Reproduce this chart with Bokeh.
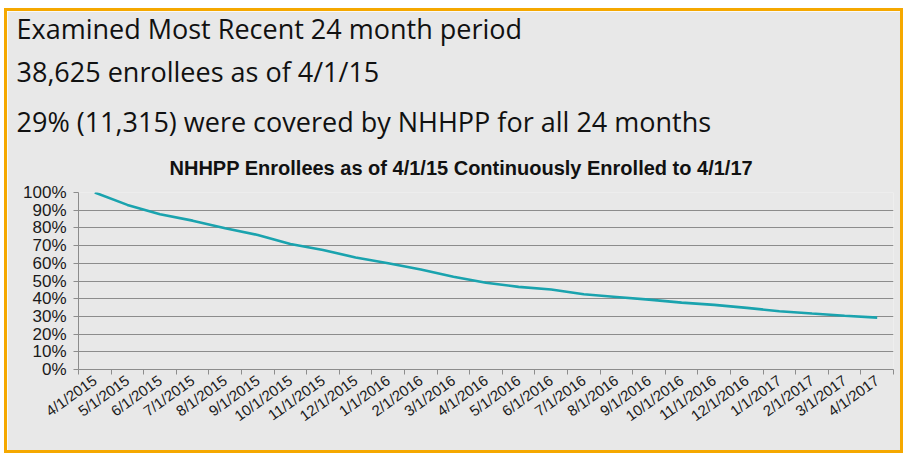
from bokeh.plotting import figure
from bokeh.models import Title, FixedTicker, PrintfTickFormatter, Range1d, ColumnDataSource
from bokeh.embed import file_html
from bokeh.resources import INLINE

header_lines = [
    "Examined Most Recent 24 month period",
    "38,625 enrollees as of 4/1/15",
    "29% (11,315) were covered by NHHPP for all 24 months",
]
chart_title = "NHHPP Enrollees as of 4/1/15 Continuously Enrolled to 4/1/17"

months = [
    "4/1/2015", "5/1/2015", "6/1/2015", "7/1/2015", "8/1/2015", "9/1/2015",
    "10/1/2015", "11/1/2015", "12/1/2015", "1/1/2016", "2/1/2016", "3/1/2016",
    "4/1/2016", "5/1/2016", "6/1/2016", "7/1/2016", "8/1/2016", "9/1/2016",
    "10/1/2016", "11/1/2016", "12/1/2016", "1/1/2017", "2/1/2017", "3/1/2017",
    "4/1/2017",
]
pct_enrolled = [
    100, 93, 87.7, 84.1, 79.8, 76, 70.9, 67.5, 63.3, 60,
    56.5, 52.4, 49, 46.7, 45.2, 42.5, 41, 39.5, 37.8, 36.5,
    34.8, 32.9, 31.6, 30.4, 29.3,
]
y_ticks = [0, 10, 20, 30, 40, 50, 60, 70, 80, 90, 100]

BG = "#E8E8E8"
ORANGE = "#F5A800"
GRID = "#8C8C8C"
LINE = "#1AA3AE"

idx = list(range(len(months)))
src = ColumnDataSource(dict(x=idx, y=pct_enrolled, m=months))

p = figure(
    width=899, height=445,
    output_backend="svg", toolbar_location=None,
    x_range=Range1d(-0.5, len(months) - 0.5), y_range=Range1d(0, 100),
    min_border_left=71, min_border_right=13, min_border_bottom=87, min_border_top=0,
    background_fill_color=BG, border_fill_color=BG, outline_line_color=None,
    styles={"border": f"3px solid {ORANGE}", "margin-left": "4px", "margin-top": "8px"},
)

p.line("x", "y", source=src, line_color=LINE, line_width=2.6)

# x axis: labels at category centres, ticks at category boundaries
p.xaxis.ticker = FixedTicker(ticks=idx, minor_ticks=[i - 0.5 for i in range(len(months) + 1)])
p.xaxis.major_label_overrides = {i: m for i, m in zip(idx, months)}
p.xaxis.major_label_orientation = 0.62
p.xaxis.major_tick_line_color = None
p.xaxis.minor_tick_in = 0
p.xaxis.minor_tick_out = 5
p.xaxis.minor_tick_line_color = GRID
p.xaxis.axis_line_color = GRID
p.xaxis.major_label_text_font = "Liberation Sans"
p.xaxis.major_label_text_font_size = "15px"
p.xaxis.major_label_text_color = "#1a1a1a"
p.xaxis.major_label_standoff = 3

p.yaxis.ticker = FixedTicker(ticks=y_ticks)
p.yaxis.formatter = PrintfTickFormatter(format="%d%%")
p.yaxis.major_tick_in = 0
p.yaxis.major_tick_out = 5
p.yaxis.major_tick_line_color = GRID
p.yaxis.minor_tick_line_color = None
p.yaxis.axis_line_color = GRID
p.yaxis.major_label_text_font = "Liberation Sans"
p.yaxis.major_label_text_font_size = "17px"
p.yaxis.major_label_text_color = "#1a1a1a"
p.yaxis.major_label_standoff = 7
p.xgrid.grid_line_color = None
p.ygrid.ticker = FixedTicker(ticks=y_ticks)
p.ygrid.grid_line_color = GRID
p.ygrid.grid_line_width = 1


def header(t, title, standoff):
    t.text = title
    t.align = "left"
    t.offset = -62
    t.text_font = "Open Sans"
    t.text_font_style = "normal"
    t.text_font_size = "27px"
    t.text_color = "#111111"
    t.standoff = standoff
    return t


# outermost title: first header line
header(p.title, header_lines[0], -8)

# titles added in order nearest-to-frame first
p.add_layout(Title(text=chart_title, align="left", offset=91, text_font="Liberation Sans",
                   text_font_style="bold", text_font_size="20px", text_color="#111111",
                   vertical_align="middle", standoff=25), "above")
p.add_layout(header(Title(), header_lines[2], 7), "above")
p.add_layout(header(Title(), header_lines[1], 16), "above")

open("out.html", "w").write(file_html(p, INLINE))
